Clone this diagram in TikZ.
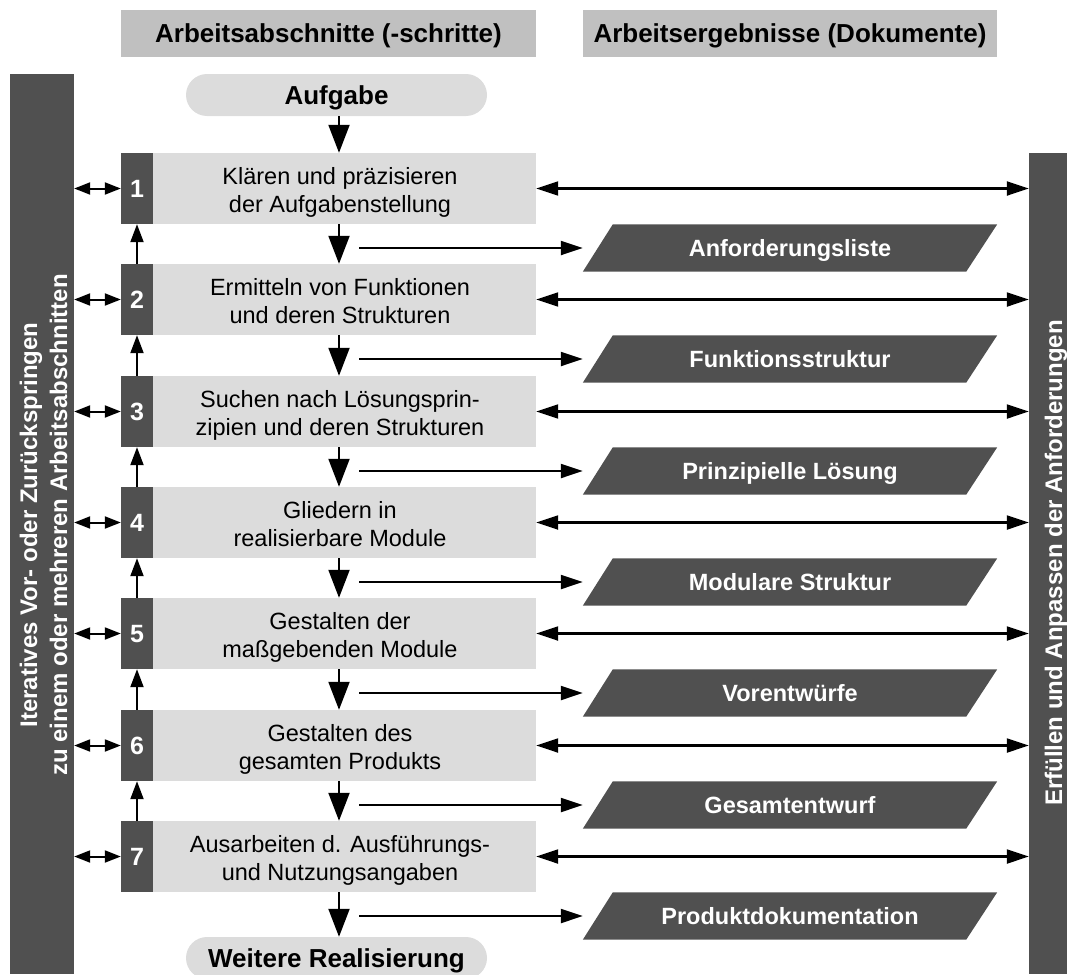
\documentclass[tikz,border=0pt]{standalone}
\usepackage{fontspec}
\setmainfont{Liberation Sans}
\usetikzlibrary{arrows.meta,calc,backgrounds}
\definecolor{hdrgray}{HTML}{C0C0C0}
\definecolor{boxgray}{HTML}{DCDCDC}
\definecolor{barfill}{HTML}{505050}
\begin{document}
\begin{tikzpicture}[x=1pt,y=-1pt,
  every node/.style={inner sep=0pt},
  hdr/.style={fill=hdrgray, minimum width=415pt, minimum height=47pt,
    font=\fontsize{26}{30}\selectfont\bfseries, text height=18.6pt, text depth=0pt},
  pill/.style={fill=boxgray, rounded corners=21pt, minimum width=301pt, minimum height=42pt,
    font=\fontsize{26}{30}\selectfont\bfseries, text height=18.6pt, text depth=0pt},
  bar/.style={fill=barfill},
  bartext/.style={rotate=90, text=white, align=center, font=\fontsize{24}{30}\selectfont\bfseries},
  stepnum/.style={fill=barfill, minimum width=32pt, minimum height=71pt, text=white,
    font=\fontsize{25}{30}\selectfont\bfseries, text height=17.9pt, text depth=0pt},
  stepbox/.style={fill=boxgray, minimum width=383pt, minimum height=71pt},
  steptext/.style={align=center, font=\fontsize{23.5}{28}\selectfont},
  doc/.style={minimum width=414pt, minimum height=47pt, text=white,
    font=\fontsize{23.5}{28}\selectfont\bfseries, text height=16.8pt, text depth=0pt},
  flow/.style={line width=2pt, -{Triangle[length=28pt,width=21pt]}},
  back/.style={line width=2pt, -{Triangle[length=18pt,width=13pt]}},
  result/.style={line width=2.2pt, -{Triangle[length=22pt,width=14pt]}},
  check/.style={line width=2.2pt, {Triangle[length=22pt,width=14pt]}-{Triangle[length=22pt,width=14pt]}},
  jump/.style={line width=2pt, {Triangle[length=16pt,width=12pt]}-{Triangle[length=16pt,width=12pt]}},
]
\useasboundingbox (0,0) rectangle (1067,974);
\clip (0,0) rectangle (1067,974);

% column headers
\node[hdr] (hl) at (328.5,33.5) {Arbeitsabschnitte (-schritte)};
\node[hdr, minimum width=414pt] (hr) at (790,33.5) {Arbeitsergebnisse (Dokumente)};

% side bars
\node[bar, minimum width=64pt, minimum height=900pt] (lb) at (42,524) {};
\node[bartext] (lbt) at (46,525) {\strut Iteratives Vor- oder Zurückspringen\\\strut zu einem oder mehreren Arbeitsabschnitten};
\node[bar, minimum width=38pt, minimum height=821pt] (rb) at (1048,563.5) {};
\node[bartext, text height=17.2pt, text depth=0pt] (rbt) at (1053.5,563) {Erfüllen und Anpassen der Anforderungen};

% start and end
\node[pill] (auf) at (336.5,95) {Aufgabe};
\node[pill] (wr) at (336.5,958) {Weitere Realisierung};
\coordinate (ax) at (339,0);

% working steps with their results
\foreach \i/\t/\txt/\res in {
  1/153/{\strut Klären und präzisieren\\\strut der Aufgabenstellung}/Anforderungsliste,
  2/264/{\strut Ermitteln von Funktionen\\\strut und deren Strukturen}/Funktionsstruktur,
  3/376/{\strut Suchen nach Lösungsprin-\\\strut zipien und deren Strukturen}/Prinzipielle Lösung,
  4/487/{\strut Gliedern in\\\strut realisierbare Module}/Modulare Struktur,
  5/598/{\strut Gestalten der\\\strut maßgebenden Module}/Vorentwürfe,
  6/710/{\strut Gestalten des\\\strut gesamten Produkts}/Gesamtentwurf,
  7/821/{\strut Ausarbeiten d. Ausführungs-\\\strut und Nutzungsangaben}/Produktdokumentation}{
  \node[stepnum] (n\i) at (137,\t+35.5) {\i};
  \node[stepbox] (g\i) at (344.5,\t+35.5) {};
  \node[steptext] (t\i) at (340,\t+39.6) {\txt};
  \node[doc] (d\i) at (790,\t+95) {\res};
  \coordinate (s\i) at (359,\t+95);
  \draw[result] (s\i) -- (d\i.west);
  \draw[check] (g\i.east) -- (g\i.east -| rb.west);
  \draw[jump] (n\i.west -| lb.east) -- (n\i.west);
}

% result documents as parallelograms
\begin{scope}[on background layer]
  \foreach \i in {1,...,7}{
    \fill[barfill] (d\i.south west) -- ($(d\i.north west)+(30,0)$)
      -- (d\i.north east) -- ($(d\i.south east)+(-31,0)$) -- cycle;
  }
\end{scope}

% main flow downwards
\draw[flow] (auf.south -| ax) -- (g1.north -| ax);
\foreach \i/\j in {1/2,2/3,3/4,4/5,5/6,6/7}{
  \draw[flow] (g\i.south -| ax) -- (g\j.north -| ax);
  \draw[back] (n\j.north) -- (n\i.south);
}
\draw[flow] (g7.south -| ax) -- (wr.north -| ax);
\end{tikzpicture}
\end{document}
